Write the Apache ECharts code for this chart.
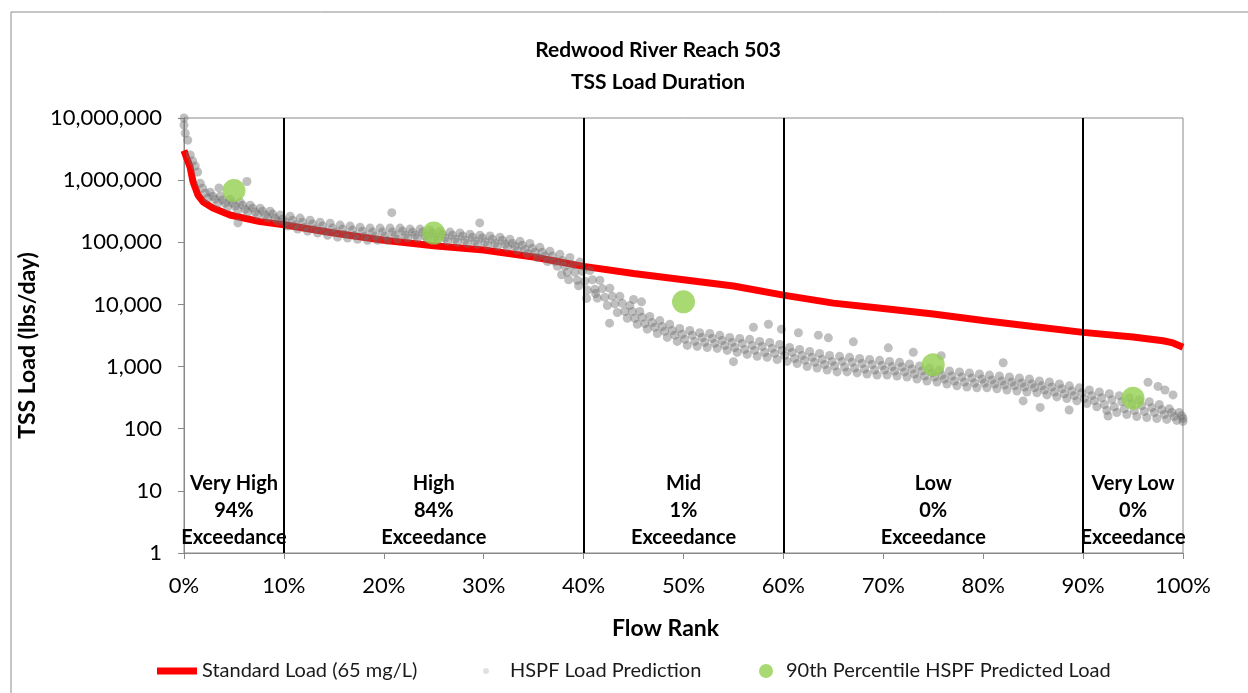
<!DOCTYPE html>
<html>
<head>
<meta charset="utf-8">
<script src="https://cdn.jsdelivr.net/npm/echarts@6/dist/echarts.min.js"></script>
<style>
  html, body { margin: 0; padding: 0; background: #fff; }
  #main { width: 1248px; height: 693px; }
</style>
</head>
<body>
<div id="main"></div>
<script>
// flow rank (%) for the HSPF band rows
var rankPct = [0,1,2,3,4,5,6,7,8,9,10,11,12,13,14,15,16,17,18,19,20,21,22,23,24,25,26,27,28,29,30,
  31,32,33,34,35,36,37,38,39,40,41,42,43,44,45,46,47,48,49,50,51,52,53,54,55,56,57,58,59,60,
  61,62,63,64,65,66,67,68,69,70,71,72,73,74,75,76,77,78,79,80,81,82,83,84,85,86,87,88,89,90,
  91,92,93,94,95,96,97,98,99,100];

var hspfTop = [10000000,2540000,895000,641000,553000,494000,443000,396000,354000,317000,274000,
  263000,245000,227000,211000,203000,189000,182000,175000,169000,169000,
  169000,169000,163000,163000,157000,151000,146000,141000,135000,130000,
  126000,121000,112000,104000,96000,83000,72000,64000,57000,48000,
  35000,24500,18200,13500,9600,7700,6400,5500,4800,4100,
  3800,3500,3400,3200,2950,2840,2740,2540,2450,2270,
  2030,1890,1750,1630,1510,1460,1410,1350,1300,1260,
  1210,1170,1100,1020,950,880,850,820,790,760,
  730,705,680,655,630,585,565,525,490,455,
  420,390,365,340,315,292,272,245,209,182];
var hspfUpper = [7700000,2030000,743000,553000,477000,426000,396000,354000,317000,284000,236000,
  227000,211000,196000,182000,169000,163000,157000,151000,146000,146000,
  146000,151000,146000,146000,141000,135000,130000,126000,121000,117000,
  112000,108000,96000,89500,80000,69000,60000,51000,43000,34000,
  25000,18000,13500,10400,7700,6200,5100,4400,3800,3300,
  3200,2950,2840,2630,2450,2360,2190,2110,1960,1820,
  1690,1510,1410,1300,1210,1210,1170,1120,1080,1040,
  1000,985,915,850,790,730,705,680,655,630,
  610,585,565,545,525,490,470,440,405,378,
  340,315,292,272,255,235,218,202,182,162];
var hspfLower = [5700000,1690000,618000,494000,426000,382000,341000,306000,274000,245000,211000,
  189000,175000,163000,151000,146000,135000,130000,126000,126000,126000,
  130000,130000,130000,126000,121000,117000,112000,108000,104000,101000,
  96000,93000,86000,77000,69000,60000,49000,41000,33000,23600,
  17500,13000,10200,7700,6000,4900,4300,3700,3200,2740,
  2540,2450,2360,2190,2030,1890,1820,1690,1630,1510,
  1350,1260,1170,1080,1020,985,950,915,880,880,
  850,820,760,705,680,630,585,565,545,545,
  525,505,490,470,455,420,390,365,340,305,
  282,245,225,209,196,189,182,169,157,146];
var hspfBottom = [4400000,1350000,513000,426000,368000,329000,306000,274000,245000,219000,182000,
  163000,151000,141000,130000,121000,117000,112000,108000,108000,108000,
  112000,117000,117000,112000,108000,104000,100000,96000,93000,89500,
  86000,83000,74000,66000,57000,49000,41000,33000,24500,17000,
  12600,9600,7400,6000,4800,4000,3400,2950,2540,2190,
  2110,2030,1960,1820,1690,1570,1460,1410,1300,1210,
  1120,1000,950,880,820,820,790,760,730,730,
  705,680,630,585,565,525,490,470,455,455,
  440,420,405,390,378,350,325,305,282,255,
  225,196,182,169,157,151,146,141,136,131];

// stray HSPF points outside the main band [rank %, load]
var hspfStray = [[3.5,750000],[6.3,950000],[5.4,205000],[20.8,300000],[29.6,205000],
  [37.8,30000],[38.5,25000],[39.5,20000],[40.3,12500],[41.2,15000],[42.6,5000],
  [45,12000],[45.8,11000],[55,1200],[57,4300],[58.5,4800],[59.8,4000],[61.5,3500],
  [63.5,3200],[64.5,2900],[67,2500],[70.5,2000],[73,1700],[75.8,1500],[82,1150],
  [84,280],[85.7,220],[88.6,200],[92.5,160],[96.5,560],[97.5,480],[98.2,420],[99,350]];

// standard load curve (65 mg/L)
var stdRank = [0,0.1,0.3,0.6,0.9,1.4,1.9,2.9,4.6,7.6,10,15,20,25,30,35,40,45,50,55,60,65,70,75,80,85,90,95,98,99,100];
var stdLoad = [3000000,2850000,2200000,1650000,950000,575000,450000,355000,275000,215000,192000,
  141000,108000,88000,75000,58000,41000,31500,25000,19800,14100,10500,8600,7000,5500,4400,
  3550,3000,2600,2400,2050];

// 90th percentile HSPF predicted load per flow zone
var p90Rank = [5,25,50,75,95];
var p90Load = [680000,141000,11000,1070,310];

// flow zones
var zoneBreaks = [10,40,60,90];
var zoneMid = [5,25,50,75,95];
var zoneNames = ['Very High','High','Mid','Low','Very Low'];
var zoneExceed = ['94%','84%','1%','0%','0%'];
var zoneLabelLoad = 4.9;

var FONT = 'Lato';

var hspfPts = [];
var rows = [hspfTop, hspfUpper, hspfLower, hspfBottom];
var offs = [-0.375, -0.125, 0.125, 0.375];
rows.forEach(function (row, r) {
  row.forEach(function (v, i) {
    var x = Math.max(0, Math.min(100, rankPct[i] + offs[r]));
    hspfPts.push([x, v]);
  });
});
hspfStray.forEach(function (p) { hspfPts.push(p); });

var stdData = stdRank.map(function (x, i) { return [x, stdLoad[i]]; });
var p90Data = p90Rank.map(function (x, i) { return [x, p90Load[i]]; });

var outerBox = {
  id: 'box',
  type: 'rect',
  shape: { x: 11, y: 12, width: 1240, height: 700 },
  style: { fill: 'none', stroke: '#8c8c8c', lineWidth: 1 },
  silent: true
};

var legendText = { fontFamily: FONT, fontSize: 20, color: '#1a1a1a' };

var myChart = echarts.init(document.getElementById('main'));
var option = {
  animation: false,
  backgroundColor: '#fff',
  textStyle: { fontFamily: FONT },
  title: {
    text: 'Redwood River Reach 503\nTSS Load Duration',
    left: 653,
    top: 29,
    textAlign: 'center',
    textStyle: { fontFamily: FONT, fontSize: 21, fontWeight: 'bold', color: '#000', lineHeight: 32 }
  },
  graphic: [outerBox],
  grid: { left: 184, right: 65, top: 118, bottom: 140, show: true, borderColor: '#898989', borderWidth: 1 },
  legend: [
    {
      data: [{ name: 'Standard Load (65 mg/L)', icon: 'rect' }],
      left: 152, top: 656, itemWidth: 40, itemHeight: 7,
      textStyle: legendText
    },
    {
      data: [{ name: 'HSPF Load Prediction', icon: 'circle', itemStyle: { color: '#d9d9d9' } }],
      left: 478, top: 656, itemWidth: 6, itemHeight: 6,
      textStyle: Object.assign({ padding: [0, 0, 0, 16] }, legendText)
    },
    {
      data: [{ name: '90th Percentile HSPF Predicted Load', icon: 'circle' }],
      left: 754, top: 656, itemWidth: 14, itemHeight: 14,
      textStyle: Object.assign({ padding: [0, 0, 0, 8] }, legendText)
    }
  ],
  xAxis: {
    type: 'value',
    min: 0, max: 100, interval: 10,
    name: 'Flow Rank',
    nameLocation: 'middle',
    nameGap: 64,
    nameTextStyle: { fontFamily: FONT, fontSize: 23, fontWeight: 'bold', color: '#000', padding: [0, 36, 0, 0] },
    axisLine: { lineStyle: { color: '#898989' } },
    axisTick: { length: 6, lineStyle: { color: '#898989' } },
    axisLabel: { formatter: '{value}%', fontSize: 22, color: '#000', margin: 22, fontFamily: FONT },
    splitLine: { show: false }
  },
  yAxis: {
    type: 'log',
    logBase: 10,
    min: 1, max: 10000000,
    name: 'TSS Load (lbs/day)',
    nameLocation: 'middle',
    nameGap: 136,
    nameTextStyle: { fontFamily: FONT, fontSize: 23, fontWeight: 'bold', color: '#000', padding: [0, 20, 0, 0] },
    axisLine: { show: true, lineStyle: { color: '#898989' } },
    axisTick: { show: true, length: 6, lineStyle: { color: '#898989' } },
    axisLabel: {
      fontSize: 22, color: '#000', margin: 22, fontFamily: FONT,
      formatter: function (v) { return Math.round(v).toLocaleString('en-US'); }
    },
    splitLine: { show: false }
  },
  series: [
    {
      name: 'Standard Load (65 mg/L)',
      type: 'line',
      data: stdData,
      showSymbol: false,
      symbol: 'none',
      color: '#ff0000',
      lineStyle: { color: '#ff0000', width: 7 },
      z: 2
    },
    {
      name: 'HSPF Load Prediction',
      type: 'scatter',
      data: hspfPts,
      symbolSize: 9,
      itemStyle: { color: 'rgba(110,110,110,0.55)' },
      z: 3
    },
    {
      name: '90th Percentile HSPF Predicted Load',
      type: 'scatter',
      data: p90Data,
      symbolSize: 23,
      itemStyle: { color: '#92d050' },
      z: 5
    },
    {
      name: 'zones',
      type: 'line',
      data: [],
      z: 6,
      markLine: {
        silent: true,
        symbol: 'none',
        label: { show: false },
        lineStyle: { color: '#000', width: 2, type: 'solid' },
        data: zoneBreaks.map(function (b) { return { xAxis: b }; })
      }
    }
  ]
};
myChart.setOption(option);

// zone captions placed at data coordinates
var zoneText = zoneMid.map(function (x, i) {
  var p = myChart.convertToPixel({ gridIndex: 0 }, [x, zoneLabelLoad]);
  return {
    type: 'text',
    x: p[0],
    y: p[1],
    z: 10,
    silent: true,
    style: {
      text: zoneNames[i] + '\n' + zoneExceed[i] + '\nExceedance',
      fontFamily: FONT,
      fontSize: 20,
      fontWeight: 'bold',
      lineHeight: 27,
      fill: '#000',
      align: 'center',
      verticalAlign: 'middle'
    }
  };
});
myChart.setOption({ graphic: [outerBox].concat(zoneText) }, { replaceMerge: ['graphic'] });
</script>
</body>
</html>
